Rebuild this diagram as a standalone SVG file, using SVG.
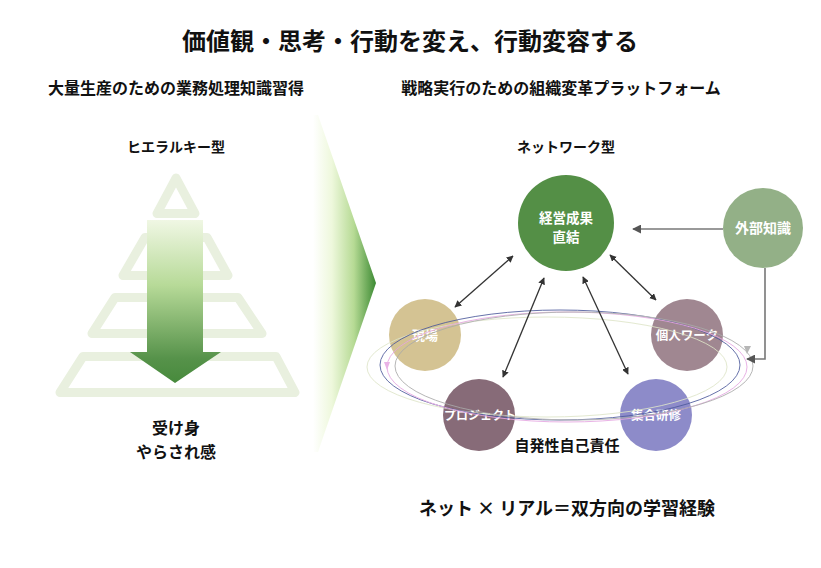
<svg xmlns="http://www.w3.org/2000/svg" width="821" height="568" viewBox="0 0 821 568">
<style>
text{font-family:"Noto Sans CJK JP","Noto Sans",sans-serif;font-weight:700;text-anchor:middle}
.t{fill:#111}
.w{fill:#fff}
.tier{fill:none;stroke:#e9f0df;stroke-width:9;stroke-linejoin:round}
.cn{fill:none;stroke:#333;stroke-width:1.3}
.ext{fill:none;stroke:#777;stroke-width:1.6}
.el{fill:none;stroke-width:1}
</style>
<defs>
<linearGradient id="chev" gradientUnits="userSpaceOnUse" x1="313" y1="0" x2="376" y2="0">
<stop offset="0" stop-color="#ffffff"/>
<stop offset="0.3" stop-color="#eef8dc"/>
<stop offset="0.65" stop-color="#b6da94"/>
<stop offset="1" stop-color="#3c8a33"/>
</linearGradient>
<linearGradient id="arr" gradientUnits="userSpaceOnUse" x1="0" y1="220" x2="0" y2="383">
<stop offset="0" stop-color="#f0f7e4"/>
<stop offset="0.4" stop-color="#b7da98"/>
<stop offset="0.85" stop-color="#56924a"/>
<stop offset="1" stop-color="#478a3c"/>
</linearGradient>
<marker id="ah" viewBox="0 0 10 10" refX="9" refY="5" markerWidth="7" markerHeight="7" markerUnits="userSpaceOnUse" orient="auto-start-reverse">
<path d="M0,0 L10,5 L0,10 Z" fill="#333"/>
</marker>
<marker id="ahg" viewBox="0 0 10 10" refX="9" refY="5" markerWidth="9" markerHeight="9" markerUnits="userSpaceOnUse" orient="auto">
<path d="M0,0 L10,5 L0,10 Z" fill="#555"/>
</marker>
</defs>
<rect width="821" height="568" fill="#fff"/>

<text class="t" x="410" y="50" font-size="24">価値観・思考・行動を変え、行動変容する</text>
<text class="t" x="176" y="94" font-size="16">大量生産のための業務処理知識習得</text>
<text class="t" x="561" y="94" font-size="16">戦略実行のための組織変革プラットフォーム</text>

<g id="hierarchy">
<text class="t" x="176" y="152" font-size="14">ヒエラルキー型</text>
<polygon class="tier" points="176,178 195,213.5 157,213.5"/>
<polygon class="tier" points="145,237.5 207,237.5 228,275.5 123,275.5"/>
<polygon class="tier" points="115,297.5 238,297.5 262,333.5 92,333.5"/>
<polygon class="tier" points="83,356.5 276,356.5 295,392.5 60,392.5"/>
<path d="M147,220 H203 V352 H221 L175,383 L130,352 H147 Z" fill="url(#arr)"/>
<text class="t" x="176" y="434" font-size="16">受け身</text>
<text class="t" x="176" y="458" font-size="16">やらされ感</text>
</g>

<polygon id="chevron" points="313,115 318,115 376,283 318,452 313,452" fill="url(#chev)"/>

<text class="t" x="566" y="152" font-size="14">ネットワーク型</text>

<g id="n-genba"><circle cx="425" cy="335" r="36" fill="#d4c393"/><text class="w" x="425" y="340" font-size="13">現場</text></g>
<g id="n-kojin"><circle cx="687" cy="335" r="36" fill="#a08791"/><text class="w" x="687" y="340" font-size="12.5">個人ワーク</text></g>
<g id="n-project"><circle cx="479" cy="415" r="36" fill="#876b78"/><text class="w" x="480" y="420" font-size="12">プロジェクト</text></g>
<g id="n-shugo"><circle cx="656" cy="415" r="36" fill="#8d8bc9"/><text class="w" x="656" y="420" font-size="12.5">集合研修</text></g>

<g id="loop" opacity="0.85">
<ellipse class="el" cx="547" cy="367" rx="180" ry="50" stroke="#dfe6c9"/>
<ellipse class="el" cx="560" cy="365" rx="180" ry="55" stroke="#4d5a9c"/>
<ellipse class="el" cx="567" cy="367" rx="180" ry="55" stroke="#e6a6e2"/>
<ellipse class="el" cx="574" cy="366" rx="179" ry="54" stroke="#aaaaaa"/>
<path d="M384,362 L390,362 L387,370 Z" fill="#e6a6e2"/>
<path d="M744,346 L751,346 L747,354 Z" fill="#aaaaaa"/>
</g>

<g id="n-keiei"><circle cx="566" cy="223" r="48" fill="#548f46"/><text class="w" x="566" y="223" font-size="13.5">経営成果</text><text class="w" x="566" y="242" font-size="13.5">直結</text></g>
<g id="n-gaibu"><circle cx="763" cy="228" r="40" fill="#93b087"/><text class="w" x="763" y="233" font-size="14">外部知識</text></g>

<g id="connectors">
<line class="cn" x1="513" y1="256" x2="455" y2="307" marker-start="url(#ah)" marker-end="url(#ah)"/>
<line class="cn" x1="610" y1="255" x2="656" y2="300" marker-start="url(#ah)" marker-end="url(#ah)"/>
<line class="cn" x1="544" y1="278" x2="503" y2="377" marker-start="url(#ah)" marker-end="url(#ah)"/>
<line class="cn" x1="583" y1="277" x2="628" y2="374" marker-start="url(#ah)" marker-end="url(#ah)"/>
<line class="ext" x1="723" y1="229" x2="633" y2="229" marker-end="url(#ahg)"/>
<polyline class="ext" points="765,268 765,359 747,359" marker-end="url(#ahg)"/>
</g>

<text class="t" x="567" y="451" font-size="15">自発性自己責任</text>
<text class="t" x="567" y="515" font-size="18">ネット × リアル＝双方向の学習経験</text>
</svg>
